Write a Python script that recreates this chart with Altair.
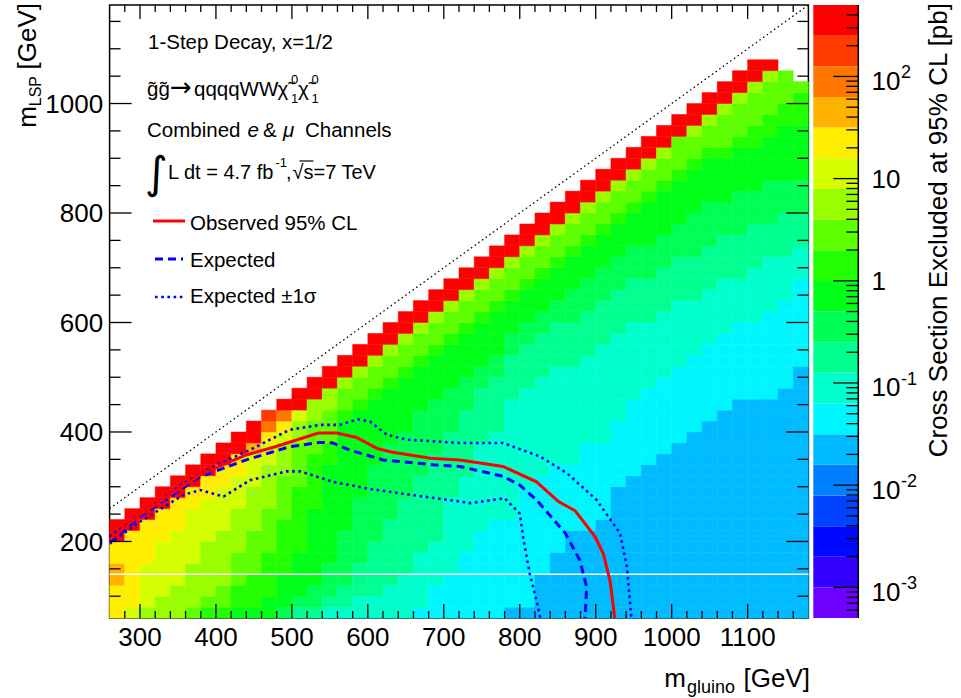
import re
import altair as alt
import pandas as pd

# ---------------- geometry of the frame (pixels) ----------------
W, H = 698.8, 613.1
PADL, PADT = 109.6, 5.0
FONT = "Liberation Sans"

# ---------------- data ----------------
x_edges = list(range(260, 1181, 20))   # m_gluino bin edges [GeV]
y_edges = list(range(60, 1181, 20))    # m_LSP bin edges [GeV]

# colour bands of the z axis (bottom -> top), letters a..t
band_letters = "abcdefghijklmnopqrst"
band_colors = ["#6E00FF", "#3300FF", "#0008FF", "#0044FF", "#0080FF", "#00BBFF",
               "#00F6FF", "#00FFCC", "#00FF90", "#00FF55", "#00FF19", "#22FF00",
               "#5EFF00", "#99FF00", "#D4FF00", "#FFEE00", "#FFB200", "#FF7700",
               "#FF3B00", "#FF0000"]
z_low, z_high = 5e-4, 500.0

# each column (m_gluino bin) read bottom -> top as runs of band letters
col_runs = [
    "p3q2p2t2",
    "o1p7t2",
    "n1o4p4t2",
    "n2o5p3t2",
    "n3o5p3t2",
    "m1n4o5p2t2",
    "l1m1n5o4p2t2",
    "l1m2n5o4p2t2",
    "k1l2m3n4o3p2t2",
    "k1l3m4n4o3q1t2",
    "k2l4m4n4o2p1r1s1",
    "j1k3l5m4n3o1p1r1t1",
    "i1j1k4l6m4n2o1t2",
    "i1j2k7l5m3n2t2",
    "h1i1j3k9l2m3n2t2",
    "h1i2j5k10l1m2n1t2",
    "h2i3j6k8l1m2n1t2",
    "h2i5j7k6l1m2n1t2",
    "h3i6j7k5l1m2n1t2",
    "h4i7j6k5l1m2n1t2",
    "g1h5i7j6k4l1m2n1t2",
    "g3h4i8j5k4l1m2n1t2",
    "g4h7i6j4k4l1m2n1t2",
    "g6h7i6j3k4l1m2n1t2",
    "g8h8i5j2k4l1m2n1t2",
    "g9h8i5j2k4l1m2n1t2",
    "f1g8h11i4j2k3l1m2n1t2",
    "f1g11h9i4j2k3l1m2n1t2",
    "f4g9h9i4j2k3l1m2n1t2",
    "f6g8h9i4j2k3l1m2n1t2",
    "f8g6h9i4j3k3l1m2n1t2",
    "f8g8h8i4j3k3l1m2n1t2",
    "f9g7h9i4j3k3l1m2n1t2",
    "f12g6h8i4j3k3l1m2n1t2",
    "f13g7h7i4j3k3l1m2n1t2",
    "f14g7h6i4j3k4l1m2n1t2",
    "f15g7h6i4j3k4l1m2n1t2",
    "f16g7h6i4j3k4l1m3t2",
    "f17g7h5i4j4k4l1m2n1t2",
    "f18g7h5i4j4k4l1m2n1t2",
    "f19g7h5i4j3k4l1m3n1t2",
    "f20g7h4i4j4k4l1m3n1t2",
    "f20g7h5i4j3k4l2m3n1t2",
    "f20g8h5i3j4k4l2m3n1t1",
    "f21g8h4i4j3k5l2m3",
    "f23g8h3i3j3k5l3m1",
]

# exclusion contours (m_gluino, m_LSP) in GeV
obs_mg = [260, 300, 379, 440, 478, 535, 559, 585, 612, 629, 682, 721, 778, 822, 851, 873, 899, 910, 919, 925]
obs_ml = [203, 249, 322, 358, 373, 398, 398, 390, 370, 364, 352, 349, 337, 309, 273, 256, 209, 178, 127, 60]
exp_mg = [260, 300, 379, 440, 497, 537, 554, 576, 620, 686, 721, 778, 800, 822, 860, 879, 888, 886]
exp_ml = [198, 245, 318, 349, 373, 381, 380, 367, 349, 340, 337, 319, 303, 276, 215, 166, 117, 60]
up_mg = [260, 300, 357, 401, 440, 497, 537, 563, 587, 603, 625, 651, 721, 778, 827, 862, 901, 932, 941, 947]
up_ml = [209, 249, 306, 340, 364, 404, 413, 413, 423, 419, 395, 386, 380, 380, 355, 325, 276, 215, 154, 60]
dn_mg = [260, 300, 357, 379, 410, 445, 493, 511, 554, 598, 642, 721, 735, 780, 800, 805, 813, 824, 827]
dn_ml = [196, 236, 285, 294, 282, 312, 328, 328, 309, 297, 288, 273, 270, 279, 251, 203, 142, 81, 60]

# kinematic boundary m_LSP = m_gluino
diag_mg = [260, 1180]
diag_ml = [260, 1180]

# axis ticks and labels
x_major = [300, 400, 500, 600, 700, 800, 900, 1000, 1100]
x_labels = ["300", "400", "500", "600", "700", "800", "900", "1000", "1100"]
x_minor = [v for v in range(280, 1180, 20) if v % 100]
y_major = [200, 400, 600, 800, 1000]
y_labels = ["200", "400", "600", "800", "1000"]
y_minor = [v for v in range(100, 1180, 50) if v % 200]
cb_major = [1e-3, 1e-2, 1e-1, 1.0, 10.0, 100.0]
cb_major_base = ["10", "10", "10", "1", "10", "10"]
cb_major_sup = ["-3", "-2", "-1", "", "", "2"]
cb_minor = [m * 10.0 ** e for e in range(-4, 3) for m in range(2, 10) if z_low * 1.01 < m * 10.0 ** e < z_high * 0.99]

# ---------------- derived tables ----------------
band_edges = [z_low * 10 ** (0.3 * k) for k in range(21)]
band_mid = [(band_edges[k] * band_edges[k + 1]) ** 0.5 for k in range(20)]
thresholds = band_edges[1:-1]

cells = []
for i, s in enumerate(col_runs):
    j = 0
    for letter, cnt in re.findall(r"([a-t])(\d+)", s):
        k = band_letters.index(letter)
        for _ in range(int(cnt)):
            cells.append(dict(x0=x_edges[i], x1=x_edges[i + 1], y0=y_edges[j], y1=y_edges[j + 1], v=band_mid[k]))
            j += 1
cells = pd.DataFrame(cells)

cb_df = pd.DataFrame(dict(lo=band_edges[:-1], hi=band_edges[1:], v=band_mid))


def line_df(mg, ml):
    return pd.DataFrame(dict(mg=mg, ml=ml, k=list(range(len(mg)))))


# ---------------- scales ----------------
xs = alt.Scale(domain=[260, 1180], nice=False, zero=False)
ys = alt.Scale(domain=[60, 1180], nice=False, zero=False)
cs = alt.Scale(type="threshold", domain=thresholds, range=band_colors)
cbs = alt.Scale(type="log", domain=[z_low, z_high], nice=False)

heat = alt.Chart(cells).mark_rect(strokeWidth=0.5).encode(
    x=alt.X("x0:Q", scale=xs, axis=None),
    x2="x1:Q",
    y=alt.Y("y0:Q", scale=ys, axis=None),
    y2="y1:Q",
    color=alt.Color("v:Q", scale=cs, legend=None),
    stroke=alt.Stroke("v:Q", scale=cs, legend=None),
)

white_line = alt.Chart(pd.DataFrame({"y": [140]})).mark_rule(color="white", strokeWidth=1.5).encode(
    y=alt.Y("y:Q", scale=ys, axis=None))


def curve(mg, ml, color, width, dash=None):
    kw = dict(color=color, strokeWidth=width, strokeCap="butt", clip=True)
    if dash:
        kw["strokeDash"] = dash
    return alt.Chart(line_df(mg, ml)).mark_line(**kw).encode(
        x=alt.X("mg:Q", scale=xs, axis=None), y=alt.Y("ml:Q", scale=ys, axis=None), order="k:Q")


diag = curve(diag_mg, diag_ml, "black", 1.3, [1.5, 3])
c_up = curve(up_mg, up_ml, "#0000FF", 2.6, [2.6, 3.6])
c_dn = curve(dn_mg, dn_ml, "#0000FF", 2.6, [2.6, 3.6])
c_exp = curve(exp_mg, exp_ml, "#0000FF", 3, [8, 5])
c_obs = curve(obs_mg, obs_ml, "#FF0000", 3)


def xticks(vals, length, top):
    y0, y1 = (0, length) if top else (H, H - length)
    return alt.Chart(pd.DataFrame({"v": vals})).mark_rule(color="black", strokeWidth=1.3).encode(
        x=alt.X("v:Q", scale=xs, axis=None), y=alt.value(y0), y2=alt.value(y1))


def yticks(vals, length, right):
    x0, x1 = (W, W - length) if right else (0, length)
    return alt.Chart(pd.DataFrame({"v": vals})).mark_rule(color="black", strokeWidth=1.3).encode(
        y=alt.Y("v:Q", scale=ys, axis=None), x=alt.value(x0), x2=alt.value(x1))


ticks = [xticks(x_major, 14, False), xticks(x_minor, 7, False), xticks(x_major, 14, True), xticks(x_minor, 7, True),
         yticks(y_major, 22, False), yticks(y_minor, 11, False), yticks(y_major, 22, True), yticks(y_minor, 11, True)]

x_lab = alt.Chart(pd.DataFrame(dict(v=x_major, t=x_labels))).mark_text(
    align="center", baseline="alphabetic", fontSize=26, font=FONT, color="black").encode(
    x=alt.X("v:Q", scale=xs, axis=None), y=alt.value(H + 27.5), text="t:N")
y_lab = alt.Chart(pd.DataFrame(dict(v=y_major, t=y_labels))).mark_text(
    align="right", baseline="alphabetic", fontSize=26, font=FONT, color="black", dy=9.3).encode(
    y=alt.Y("v:Q", scale=ys, axis=None), x=alt.value(-6.5), text="t:N")


def txt(s, x, y, size=20.5, align="left", baseline="alphabetic", angle=None, style=None, font=FONT):
    kw = dict(align=align, baseline=baseline, fontSize=size, font=font, color="black")
    if angle is not None:
        kw["angle"] = angle
    if style:
        kw["fontStyle"] = style
    return alt.Chart(pd.DataFrame({"t": [s]})).mark_text(**kw).encode(
        x=alt.value(x), y=alt.value(y), text="t:N")


def X(px):
    return px - PADL


def Y(py):
    return py - PADT


texts = [
    txt("1-Step Decay, x=1/2", X(148), Y(48.5)),
    txt("g\u0303g\u0303", X(147), Y(96)),
    txt("\u2192", X(170), Y(96), size=26, font="DejaVu Sans"),
    txt("qqqqWW", X(194), Y(96)),
    txt("\u03c7\u0303", X(277.5), Y(96)),
    txt("0", X(291), Y(84), size=13),
    txt("1", X(291), Y(103), size=13),
    txt("\u03c7\u0303", X(298), Y(96)),
    txt("0", X(311.5), Y(84), size=13),
    txt("1", X(311.5), Y(103), size=13),
    txt("Combined", X(147), Y(137)),
    txt("e", X(247.5), Y(137), style="italic"),
    txt("&", X(263), Y(137)),
    txt("\u03bc", X(283), Y(137), style="italic"),
    txt("Channels", X(305), Y(137)),
    txt("\u222b", X(145), Y(188), size=44, font="DejaVu Sans"),
    txt("L dt = 4.7 fb", X(168), Y(178.5), size=20),
    txt("-1", X(275.5), Y(167), size=13),
    txt(",", X(286), Y(178.5), size=20),
    txt("\u221as=7 TeV", X(292.5), Y(178.5), size=20),
    txt("Observed 95% CL", X(190), Y(230)),
    txt("Expected", X(190), Y(267)),
    txt("Expected \u00b11\u03c3", X(190), Y(303)),
    # axis titles
    txt("[GeV]", X(810), Y(687), size=26, align="right"),
    txt("gluino", X(735), Y(693), size=18, align="right"),
    txt("m", X(686), Y(687), size=26, align="right"),
    txt("[GeV]", X(36), Y(3), size=26, align="right", angle=270),
    txt("LSP", X(41), Y(76), size=16, align="right", angle=270),
    txt("m", X(36), Y(106), size=26, align="right", angle=270),
    txt("Cross Section Excluded at 95% CL [pb]", X(947), Y(3), size=26, align="right", angle=270),
]


def seg(x0, x1, y, color, width, dash=None):
    kw = dict(color=color, strokeWidth=width, strokeCap="butt")
    if dash:
        kw["strokeDash"] = dash
    return alt.Chart(pd.DataFrame({"a": [0]})).mark_rule(**kw).encode(
        x=alt.value(x0), x2=alt.value(x1), y=alt.value(y))


legend_lines = [
    seg(X(153), X(185), Y(221), "#FF0000", 3),
    seg(X(155), X(183), Y(259), "#0000FF", 3, [8, 5]),
    seg(X(155), X(186), Y(297), "#0000FF", 2.6, [2.6, 3.6]),
    seg(X(299.5), X(313.5), Y(161), "black", 1.2),
]

main = alt.layer(heat, white_line, diag, c_up, c_dn, c_exp, c_obs, *ticks, x_lab, y_lab, *legend_lines, *texts)

# ---------------- colour bar ----------------
CB0, CB1 = X(813.3), X(858.3)
cb_rect = alt.Chart(cb_df).mark_rect().encode(
    y=alt.Y("lo:Q", scale=cbs, axis=None), y2="hi:Q",
    x=alt.value(CB0), x2=alt.value(CB1),
    color=alt.Color("v:Q", scale=cs, legend=None))
cb_line = alt.Chart(pd.DataFrame({"a": [0]})).mark_rule(color="black", strokeWidth=1.5).encode(
    x=alt.value(CB1), y=alt.value(0), y2=alt.value(H))


def cbticks(vals, length):
    return alt.Chart(pd.DataFrame({"v": vals})).mark_rule(color="black", strokeWidth=1.3).encode(
        y=alt.Y("v:Q", scale=cbs, axis=None), x=alt.value(CB1 - length), x2=alt.value(CB1))


lab_df = pd.DataFrame(dict(v=cb_major, base=cb_major_base, sup=cb_major_sup))
plain = lab_df[lab_df["sup"] == ""]
supd = lab_df[lab_df["sup"] != ""]
cb_lab_plain = alt.Chart(plain).mark_text(align="left", baseline="alphabetic", fontSize=26, font=FONT, color="black", dy=9.3).encode(
    y=alt.Y("v:Q", scale=cbs, axis=None), x=alt.value(X(871.5)), text="base:N")
cb_lab_base = alt.Chart(supd).mark_text(align="left", baseline="alphabetic", fontSize=26, font=FONT, color="black", dy=13.5).encode(
    y=alt.Y("v:Q", scale=cbs, axis=None), x=alt.value(X(871.5)), text="base:N")
cb_lab_sup = alt.Chart(supd).mark_text(align="left", baseline="alphabetic", fontSize=18, font=FONT, color="black", dy=2).encode(
    y=alt.Y("v:Q", scale=cbs, axis=None), x=alt.value(X(901)), text="sup:N")

cbar = alt.layer(cb_rect, cbticks(cb_major, 25), cbticks(cb_minor, 12), cb_line, cb_lab_plain, cb_lab_base, cb_lab_sup)

chart = alt.layer(main, cbar).resolve_scale(y="independent").properties(
    width=W, height=H,
    padding={"left": PADL, "top": PADT, "right": 961 - PADL - W, "bottom": 698 - PADT - H},
    autosize=alt.AutoSizeParams(type="none"),
    background="white",
).configure_view(stroke="black", strokeWidth=1.5)

chart.save("out.html", embed_options={"renderer": "svg", "actions": False})
